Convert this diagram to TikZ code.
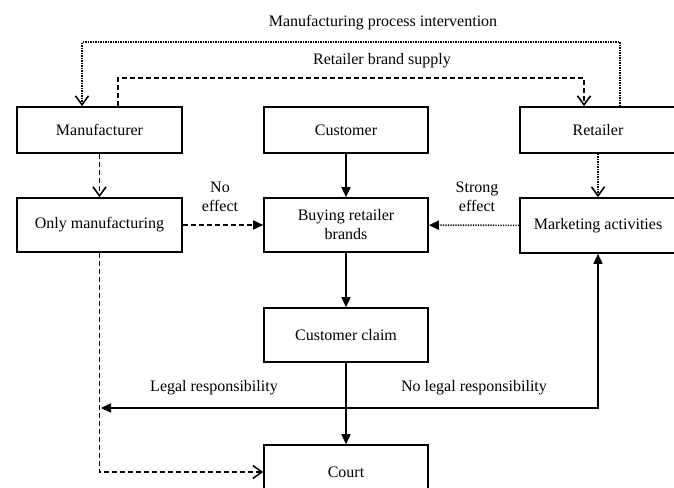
\documentclass[tikz,border=0pt]{standalone}
\usepackage{fontspec}
\setmainfont{Liberation Serif}
\usetikzlibrary{arrows.meta}
\tikzset{>=Latex}
\tikzset{
  box/.style={draw,line width=1.6pt,inner sep=0pt,align=center,
    font=\fontsize{16}{19}\selectfont},
  lbl/.style={inner sep=0pt,align=center,font=\fontsize{16}{19}\selectfont},
  flow/.style={line width=1.6pt},
  dashflow/.style={flow,dash pattern=on 5pt off 3pt},
  dotflow/.style={flow,dash pattern=on 1.4pt off 1.1pt},
  openhead/.style={-{Straight Barb[length=9pt,width=13pt,line width=1.6pt]}},
  fillhead/.style={-{Triangle[length=10pt,width=9pt]}},
}

\begin{document}
\begin{tikzpicture}[x=1pt,y=-1pt]
  \useasboundingbox (0,0) rectangle (674,487);

  \def\lx{99.5} % left column
  \def\mx{346}  % middle column
  \def\rx{598}  % right column

  % boxes
  \node[box,minimum width=165pt,minimum height=46pt] (manu) at (\lx,130) {Manufacturer};
  \node[box,minimum width=164pt,minimum height=46pt] (cust) at (\mx,130) {Customer};
  \node[box,minimum width=156pt,minimum height=46pt] (ret)  at (\rx,130) {Retailer};
  \node[box,minimum width=165pt,minimum height=54pt] (only) at (\lx,225) {Only manufacturing};
  \node[box,minimum width=164pt,minimum height=54pt] (buy)  at (\mx,225) {Buying retailer\\brands};
  \node[box,minimum width=156pt,minimum height=55pt] (mark) at (\rx,225.5) {Marketing activities};
  \node[box,minimum width=164pt,minimum height=54pt] (claim) at (\mx,335) {Customer claim};
  \node[box,minimum width=164pt,minimum height=54pt] (court) at (\mx,472) {Court};

  % labels
  \node[lbl] (mpi)  at (383,23)  {Manufacturing process intervention};
  \node[lbl] (rbs)  at (382,61)  {Retailer brand supply};
  \node[lbl] (noeff) at (220,197) {No\\effect};
  \node[lbl] (streff) at (477,197) {Strong\\effect};
  \node[lbl] (lr)   at (214,388) {Legal responsibility};
  \node[lbl] (nlr)  at (474,388) {No legal responsibility};

  % arrows
  \draw[dotflow,openhead] % retailer -> manufacturer
    ([xshift=22pt]ret.north) -- ++(0,-64) -| ([xshift=-17.5pt]manu.north);
  \draw[dashflow,openhead] % manufacturer -> retailer
    ([xshift=18.5pt]manu.north) -- ++(0,-28) -| ([xshift=-14pt]ret.north);
  \draw[dashflow,openhead] (manu) -- (only);
  \draw[flow,fillhead] (cust) -- (buy);
  \draw[dotflow,openhead] (ret) -- (mark);
  \draw[dashflow,fillhead] (only) -- (buy);
  \draw[dotflow,fillhead] (mark) -- (buy);
  \draw[flow,fillhead] (buy) -- (claim);
  \draw[flow,fillhead] (claim) -- (court);
  \draw[dashflow,openhead] (only.south) |- (court.west);

  \coordinate (legal) at (101,408);
  \draw[flow,{Triangle[length=10pt,width=9pt]}-{Triangle[length=10pt,width=9pt]}]
    (legal) -| (mark.south);

\end{tikzpicture}
\end{document}
